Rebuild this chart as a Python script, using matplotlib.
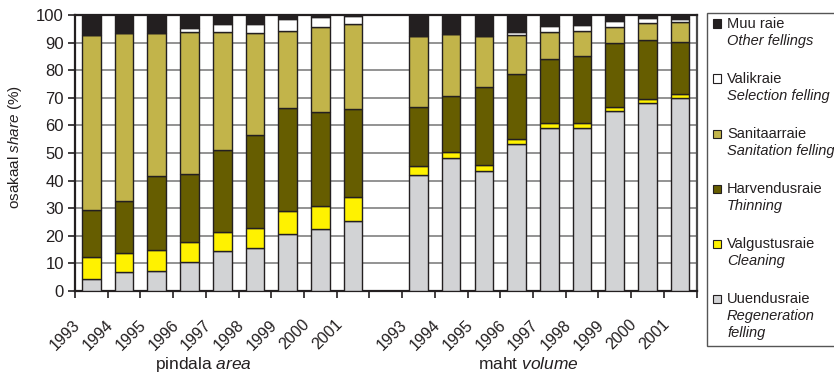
import matplotlib
matplotlib.use('Agg')
import matplotlib.pyplot as plt
import numpy as np
from matplotlib.patches import Rectangle
import matplotlib.transforms as mtransforms

plt.rcParams['font.family'] = ['Liberation Sans', 'DejaVu Sans']
plt.rcParams['mathtext.fontset'] = 'custom'
plt.rcParams['mathtext.rm'] = 'Liberation Sans'
plt.rcParams['mathtext.it'] = 'Liberation Sans:italic'

# ---------------- data ----------------
years = ['1993', '1994', '1995', '1996', '1997', '1998', '1999', '2000', '2001']
group_labels = [r'pindala $\mathit{area}$', r'maht $\mathit{volume}$']

names_et = ['Uuendusraie', 'Valgustusraie', 'Harvendusraie', 'Sanitaarraie', 'Valikraie', 'Muu raie']
names_en = ['Regeneration\nfelling', 'Cleaning', 'Thinning', 'Sanitation felling',
            'Selection felling', 'Other fellings']
colors = ['#D2D3D5', '#FFF200', '#665D00', '#C2B44A', '#FFFFFF', '#231F20']

# area shares (%)
area_regeneration = [4.5, 7.0, 7.1, 10.4, 14.4, 15.6, 20.8, 22.5, 25.5]
area_cleaning     = [7.7, 6.9, 7.9, 7.4, 6.9, 7.2, 8.1, 8.2, 8.6]
area_thinning     = [17.0, 18.7, 26.5, 24.7, 29.8, 33.6, 37.3, 34.2, 32.0]
area_sanitation   = [63.7, 60.9, 52.0, 51.5, 42.9, 37.1, 28.1, 30.8, 30.5]
area_selection    = [0.0, 0.0, 0.0, 1.2, 2.6, 3.2, 4.1, 3.7, 3.1]
area_other        = [7.1, 6.5, 6.5, 4.8, 3.4, 3.3, 1.6, 0.6, 0.3]

# volume shares (%)
vol_regeneration = [42.0, 48.2, 43.4, 53.1, 59.2, 59.1, 65.3, 68.2, 69.8]
vol_cleaning     = [3.3, 2.3, 2.4, 2.0, 1.5, 1.8, 1.4, 1.5, 1.5]
vol_thinning     = [21.5, 20.2, 28.0, 23.4, 23.4, 24.2, 23.0, 21.2, 18.9]
vol_sanitation   = [25.5, 22.4, 18.6, 14.4, 9.9, 9.0, 5.8, 6.2, 7.4]
vol_selection    = [0.0, 0.0, 0.0, 0.9, 2.1, 2.3, 2.3, 1.7, 1.1]
vol_other        = [7.7, 6.9, 7.6, 6.2, 3.9, 3.6, 2.2, 1.2, 1.3]

area_series = [area_regeneration, area_cleaning, area_thinning, area_sanitation, area_selection, area_other]
vol_series = [vol_regeneration, vol_cleaning, vol_thinning, vol_sanitation, vol_selection, vol_other]

# ---------------- figure ----------------
W, H = 834, 376
fig = plt.figure(figsize=(W / 100, H / 100), dpi=100)
ax = fig.add_axes([75 / W, 1 - 291 / H, (696.5 - 75) / W, (291 - 15) / H])

n = len(years)
x_area = np.arange(n)
x_vol = np.arange(n) + n + 1
bw = 0.57

for xs, series in ((x_area, area_series), (x_vol, vol_series)):
    bottom = np.zeros(n)
    for vals, c in zip(series, colors):
        v = np.array(vals)
        ax.bar(xs, v, bw, bottom=bottom, color=c, edgecolor='#231F20', linewidth=1.0, zorder=3)
        bottom += v

ax.set_xlim(-0.5, 2 * n + 0.5)
ax.set_ylim(0, 100)
ax.set_yticks(np.arange(0, 101, 10))
ax.set_xticks(np.arange(-0.5, 2 * n + 1, 1))
ax.set_xticklabels([])
for y in range(10, 100, 10):
    ax.axhline(y, color='#808080', linewidth=1.2, zorder=1)

ax.tick_params(axis='y', direction='out', length=5, width=1.2, labelsize=12, pad=3, colors='#231F20')
ax.tick_params(axis='x', direction='out', length=5, width=1.2, colors='#231F20')
for s in ('left', 'bottom', 'top'):
    ax.spines[s].set_linewidth(1.6)
    ax.spines[s].set_color('#231F20')
ax.spines['right'].set_linewidth(1.6)
ax.spines['right'].set_color('#4a4a4a')

# year labels
offs = mtransforms.ScaledTranslation(-8 / 100, -26 / 100, fig.dpi_scale_trans)
tr = ax.get_xaxis_transform() + offs
for xs in (x_area, x_vol):
    for x, yr in zip(xs, years):
        ax.text(x, 0, yr, transform=tr, rotation=45, ha='right', va='top',
                fontsize=11.5, color='#231F20')

# group labels
fig.text(204 / W, 1 - 364 / H, group_labels[0], ha='center', va='center', fontsize=12.5, color='#231F20')
fig.text(528 / W, 1 - 364 / H, group_labels[1], ha='center', va='center', fontsize=12.5, color='#231F20')

# y label
fig.text(15 / W, 1 - 147 / H, r'osakaal $\mathit{share}$ (%)', rotation=90, ha='center', va='center',
         fontsize=11, color='#231F20')

# legend (manual box)
fig.patches.append(Rectangle((707 / W, 1 - 346 / H), (840 - 707) / W, (346 - 13) / H,
                             transform=fig.transFigure, facecolor='white', edgecolor='#555555',
                             linewidth=1.0, zorder=5))
y0 = 24
step = 55
order = list(range(len(names_et)))[::-1]
for k, idx in enumerate(order):
    yc = y0 + k * step
    fig.patches.append(Rectangle((713 / W, 1 - (yc + 3.5) / H), 7.5 / W, 8 / H,
                                 transform=fig.transFigure, facecolor=colors[idx],
                                 edgecolor='#231F20', linewidth=0.8, zorder=6))
    fig.text(727 / W, 1 - yc / H, names_et[idx], ha='left', va='center', fontsize=10.5,
             color='#231F20', zorder=7)
    fig.text(727 / W, 1 - (yc + 10) / H, names_en[idx], ha='left', va='top', fontsize=10.5,
             style='italic', color='#231F20', zorder=7, linespacing=1.25)

fig.savefig('out.png', dpi=100)
